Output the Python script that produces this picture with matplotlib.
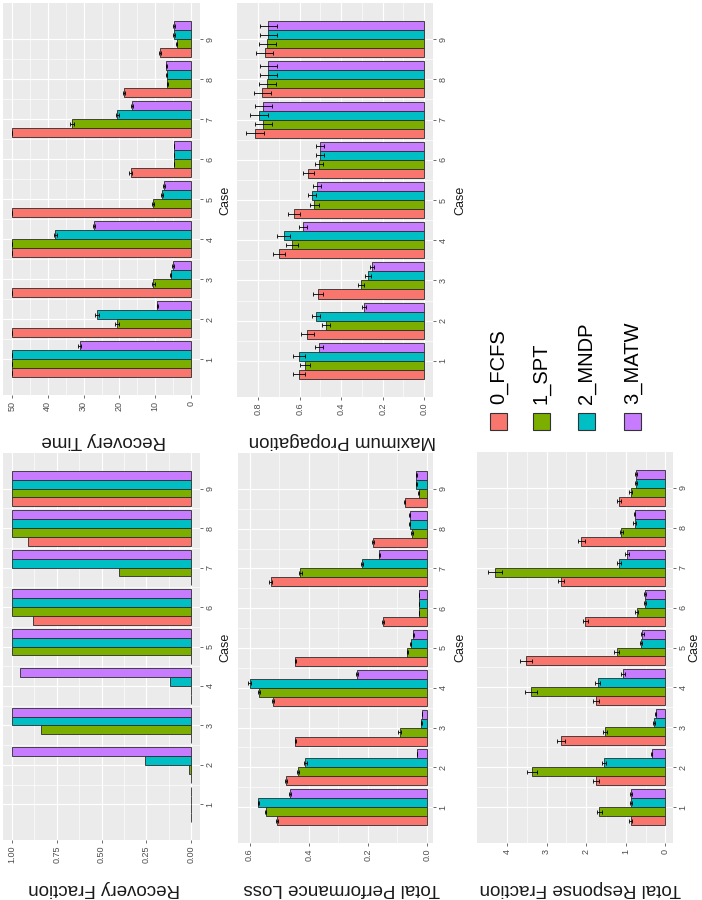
import numpy as np
import matplotlib
matplotlib.use("Agg")
import matplotlib.pyplot as plt
from matplotlib.patches import Rectangle

# =====================================================
# 1) DATA (read off the reference chart)
# =====================================================

CASES = [1, 2, 3, 4, 5, 6, 7, 8, 9]
POLICIES = ["0_FCFS", "1_SPT", "2_MNDP", "3_MATW"]
COLORS = ["#F8766D", "#7CAE00", "#00BFC4", "#C77CFF"]

# Recovery Time
rt_fcfs = [50, 50, 50, 50, 50, 16.9, 50, 18.8, 8.7]
rt_spt = [50, 20.7, 10.6, 50, 10.6, 4.8, 33.3, 6.6, 4.0]
rt_mndp = [50, 26.3, 5.7, 37.9, 8.2, 4.8, 20.6, 6.8, 4.8]
rt_matw = [31.1, 9.4, 5.0, 27.1, 7.5, 4.8, 16.6, 6.9, 4.8]
rt_err_fcfs = [0, 0, 0, 0, 0, 0.4, 0, 0.3, 0.2]
rt_err_spt = [0, 0.5, 0.4, 0, 0.3, 0, 0.5, 0.2, 0.2]
rt_err_mndp = [0, 0.6, 0.2, 0.4, 0.3, 0, 0.4, 0.2, 0.2]
rt_err_matw = [0.4, 0.2, 0.2, 0.4, 0.2, 0, 0.3, 0.2, 0.2]

# Maximum Propagation
mp_fcfs = [0.605, 0.563, 0.513, 0.700, 0.628, 0.558, 0.816, 0.781, 0.769]
mp_spt = [0.574, 0.475, 0.304, 0.637, 0.529, 0.507, 0.776, 0.756, 0.756]
mp_mndp = [0.605, 0.520, 0.269, 0.678, 0.542, 0.502, 0.796, 0.751, 0.751]
mp_matw = [0.507, 0.288, 0.250, 0.586, 0.518, 0.502, 0.776, 0.751, 0.751]
mp_err_fcfs = [0.03, 0.03, 0.025, 0.03, 0.03, 0.025, 0.045, 0.04, 0.04]
mp_err_spt = [0.025, 0.02, 0.015, 0.03, 0.02, 0.02, 0.04, 0.04, 0.04]
mp_err_mndp = [0.03, 0.02, 0.015, 0.03, 0.02, 0.02, 0.045, 0.04, 0.04]
mp_err_matw = [0.02, 0.01, 0.01, 0.02, 0.02, 0.02, 0.04, 0.04, 0.04]

# Recovery Fraction
rf_fcfs = [0, 0, 0, 0, 0, 0.885, 0, 0.91, 1.0]
rf_spt = [0.003, 0.013, 0.838, 0, 1.0, 1.0, 0.40, 1.0, 1.0]
rf_mndp = [0.003, 0.255, 1.0, 0.115, 1.0, 1.0, 1.0, 1.0, 1.0]
rf_matw = [0.003, 1.0, 1.0, 0.953, 1.0, 1.0, 1.0, 1.0, 1.0]

# Total Performance Loss
tpl_fcfs = [0.507, 0.476, 0.446, 0.521, 0.446, 0.149, 0.529, 0.183, 0.076]
tpl_spt = [0.546, 0.436, 0.092, 0.568, 0.067, 0.028, 0.428, 0.051, 0.029]
tpl_mndp = [0.570, 0.411, 0.019, 0.600, 0.055, 0.028, 0.219, 0.059, 0.036]
tpl_matw = [0.464, 0.034, 0.017, 0.237, 0.047, 0.028, 0.162, 0.059, 0.036]
tpl_err_fcfs = [0.003, 0.003, 0.002, 0.003, 0.002, 0.004, 0.004, 0.004, 0.002]
tpl_err_spt = [0.003, 0.004, 0.005, 0.003, 0.002, 0.001, 0.006, 0.002, 0.001]
tpl_err_mndp = [0.003, 0.006, 0.001, 0.005, 0.002, 0.001, 0.004, 0.002, 0.001]
tpl_err_matw = [0.003, 0.001, 0.001, 0.004, 0.002, 0.001, 0.002, 0.002, 0.001]

# Total Response Fraction
trf_fcfs = [0.88, 1.75, 2.63, 1.75, 3.52, 2.02, 2.63, 2.12, 1.17]
trf_spt = [1.67, 3.36, 1.53, 3.39, 1.23, 0.73, 4.31, 1.11, 0.88]
trf_mndp = [0.87, 1.55, 0.29, 1.71, 0.62, 0.52, 1.17, 0.78, 0.75]
trf_matw = [0.87, 0.35, 0.25, 1.06, 0.58, 0.52, 0.98, 0.78, 0.75]
trf_err_fcfs = [0.04, 0.07, 0.10, 0.07, 0.15, 0.07, 0.08, 0.08, 0.05]
trf_err_spt = [0.07, 0.13, 0.05, 0.15, 0.06, 0.03, 0.18, 0.04, 0.03]
trf_err_mndp = [0.03, 0.05, 0.02, 0.06, 0.03, 0.02, 0.05, 0.03, 0.03]
trf_err_matw = [0.03, 0.02, 0.02, 0.05, 0.03, 0.02, 0.05, 0.02, 0.03]

# =====================================================
# 2) LAYOUT / STYLE
# =====================================================

FIG_W, FIG_H = 702, 900
plt.rcParams["font.family"] = ["Liberation Sans", "DejaVu Sans"]

PANEL_BG = "#EBEBEB"
TICK_COLOR = "#4D4D4D"
BAR_WIDTH = 0.225


def px_rect(x0, y0, x1, y1):
    """pixel box (top-left origin) -> figure fraction rect"""
    return [x0 / FIG_W, 1 - y1 / FIG_H, (x1 - x0) / FIG_W, (y1 - y0) / FIG_H]


def fx(x):
    return x / FIG_W


def fy(y):
    return 1 - y / FIG_H


def desenhar_painel(fig, box, series, errors, xlim, ticks, ticklabels,
                    titulo, titulo_xy, case_xy):
    ax = fig.add_axes(px_rect(*box))
    ax.set_facecolor(PANEL_BG)
    casos = np.array(CASES, dtype=float)

    for i, vals in enumerate(series):
        y = casos + (i - 1.5) * BAR_WIDTH
        ax.barh(y, vals, height=BAR_WIDTH, color=COLORS[i],
                edgecolor="#2B2B2B", linewidth=0.6, zorder=2)
        if errors is not None:
            ax.errorbar(vals, y, xerr=errors[i], fmt="none", ecolor="black",
                        elinewidth=0.6, capsize=1.2, capthick=0.6, zorder=3)

    ax.set_xlim(xlim[1], xlim[0])
    ax.set_ylim(0.1, 9.9)

    ax.set_xticks(ticks)
    ax.set_xticklabels(ticklabels)
    mids = [(a + b) / 2 for a, b in zip(ticks[:-1], ticks[1:])]
    ax.set_xticks(mids, minor=True)
    ax.set_yticks(CASES)
    ax.set_yticklabels([str(c) for c in CASES])
    ax.set_yticks([c + 0.5 for c in CASES[:-1]], minor=True)

    ax.grid(which="major", color="white", linewidth=0.8, zorder=0)
    ax.grid(which="minor", color="white", linewidth=0.45, zorder=0)
    ax.set_axisbelow(True)

    ax.yaxis.tick_right()
    ax.tick_params(which="major", length=2.5, width=0.5, color="#333333",
                   labelsize=6.5, labelcolor=TICK_COLOR, pad=1.5)
    ax.tick_params(which="minor", length=0)
    ax.tick_params(axis="x", labelrotation=90)
    ax.tick_params(axis="y", labelrotation=90)
    for lbl in ax.get_yticklabels():
        lbl.set_verticalalignment("center")

    for s in ax.spines.values():
        s.set_visible(False)

    fig.text(fx(titulo_xy[0]), fy(titulo_xy[1]), titulo, rotation=180,
             ha="center", va="center", fontsize=13.5, color="#1A1A1A")
    fig.text(fx(case_xy[0]), fy(case_xy[1]), "Case", rotation=90,
             ha="center", va="center", fontsize=9, color="#1A1A1A")
    return ax


def desenhar_legenda(fig):
    key_x = [490, 533, 578, 624]
    key = 17
    for x, cor, nome in zip(key_x, COLORS, POLICIES):
        fig.patches.append(Rectangle((fx(x), fy(430)), key / FIG_W, key / FIG_H,
                                     transform=fig.transFigure, facecolor=cor,
                                     edgecolor="#333333", linewidth=0.8))
        fig.text(fx(x + key / 2), fy(404), nome, rotation=90, ha="center",
                 va="bottom", fontsize=14.5, color="black")


# =====================================================
# 3) MAIN
# =====================================================

def main():
    fig = plt.figure(figsize=(FIG_W / 100, FIG_H / 100), dpi=100)

    desenhar_painel(
        fig, (3, 3, 200, 395),
        [rt_fcfs, rt_spt, rt_mndp, rt_matw],
        [rt_err_fcfs, rt_err_spt, rt_err_mndp, rt_err_matw],
        (-2.5, 52.5), [0, 10, 20, 30, 40, 50], ["0", "10", "20", "30", "40", "50"],
        "Recovery Time", (104, 441), (225, 200))

    desenhar_painel(
        fig, (237, 3, 433, 397),
        [mp_fcfs, mp_spt, mp_mndp, mp_matw],
        [mp_err_fcfs, mp_err_spt, mp_err_mndp, mp_err_matw],
        (-0.043, 0.903), [0, 0.2, 0.4, 0.6, 0.8], ["0.0", "0.2", "0.4", "0.6", "0.8"],
        "Maximum Propagation", (342, 441), (460, 200))

    desenhar_legenda(fig)

    desenhar_painel(
        fig, (3, 453, 200, 840),
        [rf_fcfs, rf_spt, rf_mndp, rf_matw],
        None,
        (-0.05, 1.05), [0, 0.25, 0.5, 0.75, 1.0], ["0.00", "0.25", "0.50", "0.75", "1.00"],
        "Recovery Fraction", (104, 888), (225, 647))

    desenhar_painel(
        fig, (238, 453, 433, 843),
        [tpl_fcfs, tpl_spt, tpl_mndp, tpl_matw],
        [tpl_err_fcfs, tpl_err_spt, tpl_err_mndp, tpl_err_matw],
        (-0.02, 0.639), [0, 0.2, 0.4, 0.6], ["0.0", "0.2", "0.4", "0.6"],
        "Total Performance Loss", (342, 888), (460, 647))

    desenhar_painel(
        fig, (477, 452, 673, 843),
        [trf_fcfs, trf_spt, trf_mndp, trf_matw],
        [trf_err_fcfs, trf_err_spt, trf_err_mndp, trf_err_matw],
        (-0.19, 4.755), [0, 1, 2, 3, 4], ["0", "1", "2", "3", "4"],
        "Total Response Fraction", (580, 888), (694, 647))

    fig.savefig("out.png", dpi=100)
    plt.close(fig)


if __name__ == "__main__":
    main()
